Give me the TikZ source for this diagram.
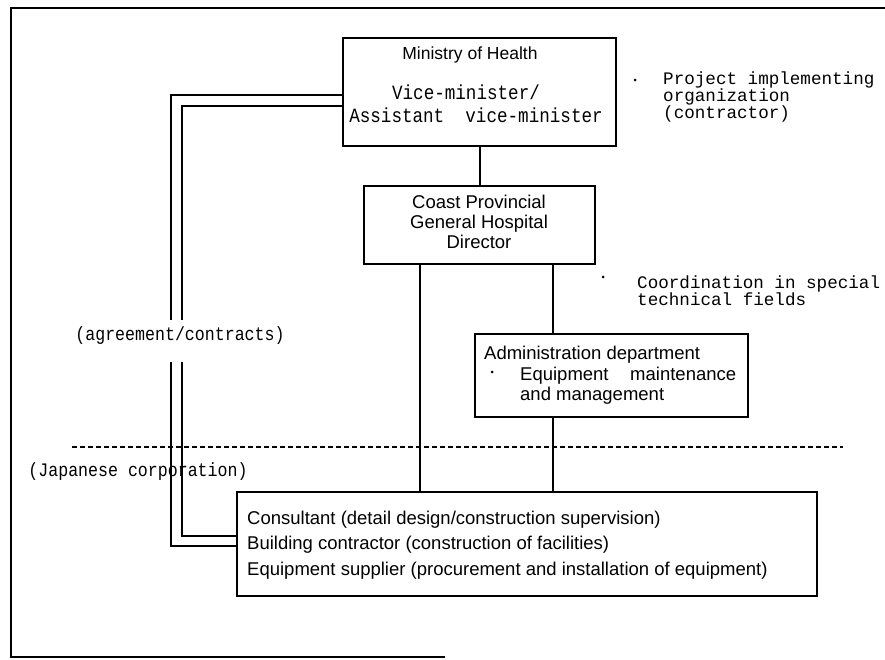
\documentclass[tikz,border=0pt]{standalone}
\usepackage{fontspec}
\setmainfont{Liberation Sans}
\newfontfamily\monof{Liberation Mono}
\newcommand{\tallt}[1]{\scalebox{1}[1.15]{#1}}
\begin{document}
\lineskiplimit=-20pt
\begin{tikzpicture}[x=1pt,y=-1pt,
  box/.style={draw, line width=2pt, inner sep=0pt, anchor=north west},
  ln/.style={line width=2pt},
  sanst/.style={font=\fontsize{18.5}{20}\selectfont, inner sep=0pt},
  monot/.style={font=\monof\fontsize{17.6}{17}\selectfont, inner sep=0pt},
  mono2/.style={font=\monof\fontsize{16.6}{16.5}\selectfont, inner sep=0pt},
  dot/.style={circle, fill, inner sep=0pt, minimum size=3pt},
]
\useasboundingbox (0,0) rectangle (885,659);
% outer frame
\draw[line width=1.4pt] (885,8) -- (11,8) -- (11,657) -- (445,657);
% boxes
\node[box, minimum width=273pt, minimum height=108pt] (mh) at (342,37) {};
\node[box, minimum width=231pt, minimum height=78pt] (cp) at (363,185) {};
\node[box, minimum width=273pt, minimum height=83pt] (ad) at (474,333) {};
\node[box, minimum width=580pt, minimum height=104pt] (co) at (236,491) {};
% ministry texts
\node[sanst, font=\fontsize{17.5}{18}\selectfont] (mht1) at (470,55) {Ministry of Health};
\node[monot] (mht2) at (466,92) {\tallt{Vice-minister/}};
\node[monot] (mht3) at (476,115) {\tallt{Assistant\ \ vice-minister}};
% coast texts
\node[sanst, align=center] (cpt) at (479,222) {Coast Provincial\\General Hospital\\Director};
% admin texts
\node[sanst, anchor=base west] (adt1) at (484,359) {Administration department};
\node[dot] (adb) at (492,372) {};
\node[sanst, anchor=base west] (adt2) at (520,380) {\makebox[216pt][s]{Equipment maintenance}};
\node[sanst, anchor=base west] (adt3) at (520,400) {and management};
% consultant texts
\node[sanst, anchor=base west] (cot1) at (247,524) {Consultant (detail design/construction supervision)};
\node[sanst, anchor=base west] (cot2) at (247,549) {Building contractor (construction of facilities)};
\node[sanst, anchor=base west] (cot3) at (247,575) {Equipment supplier (procurement and installation of equipment)};
% side notes
\node[dot] (pb) at (635,80) {};
\node[monot, align=left, anchor=west] (pt) at (663,97) {Project implementing\\organization\\(contractor)};
\node[dot] (cb) at (603,277) {};
\node[monot, align=left, anchor=west] (ct) at (637,291) {Coordination in special\\technical fields};
\node[mono2] (agr) at (180,336) {\tallt{(agreement/contracts)}};
\node[mono2] (jap) at (138,472) {\tallt{(Japanese corporation)}};
% connectors
\draw[ln] (mh.south) -- (cp.north);
\draw[ln] (cp.south -| 420,0) -- (co.north -| 420,0);
\draw[ln] (cp.south -| 553,0) -- (ad.north -| 553,0);
\draw[ln] (ad.south -| 553,0) -- (co.north -| 553,0);
% double line (agreement/contracts)
\draw[ln] (mh.west |- 0,95) -- (171,95) -- (171,320);
\draw[ln] (171,362) -- (171,546) -- (co.west |- 0,546);
\draw[ln] (mh.west |- 0,106) -- (182,106) -- (182,320);
\draw[ln] (182,362) -- (182,536) -- (co.west |- 0,536);
% boundary line
\draw[line width=1.8pt, dash pattern=on 5pt off 3pt] (72,447) -- (843,447);
\end{tikzpicture}
\end{document}
